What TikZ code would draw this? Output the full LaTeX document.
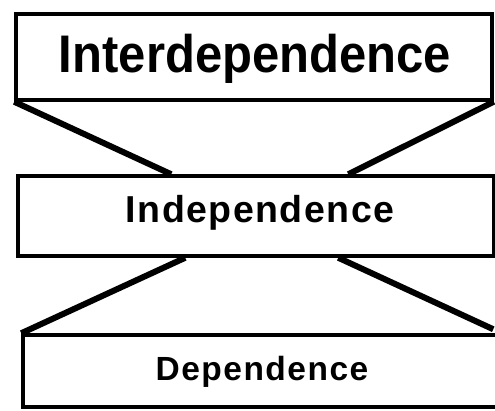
\documentclass[tikz,border=0pt]{standalone}
\usepackage{fontspec}
\newfontfamily\labelfont{Liberation Sans}
\usetikzlibrary{calc}
\begin{document}
\begin{tikzpicture}[x=1pt,y=-1pt,
  panel/.style={draw=black, line width=3.5pt, inner sep=0pt},
  link/.style={draw=black, line width=6pt},
  caption/.style={inner sep=0pt, anchor=base, text=black}]
\useasboundingbox (0,0) rectangle (495,410);
\node[panel, minimum width=476pt, minimum height=86pt] (inter) at (254,57) {};
\node[panel, minimum width=476pt, minimum height=80pt] (indep) at (256,216) {};
\node[panel, minimum width=478pt, minimum height=72pt] (dep) at (262,371) {};
\node[caption, font=\labelfont\bfseries\fontsize{49}{52}\selectfont] (intertext) at (255,72) {\scalebox{1}[1.08]{Interdependence}};
\node[caption, font=\labelfont\bfseries\fontsize{37.5}{40}\selectfont\addfontfeatures{LetterSpace=4}] (indeptext) at (260,222) {Independence};
\node[caption, font=\labelfont\bfseries\fontsize{33.5}{36}\selectfont\addfontfeatures{LetterSpace=4.5}] (deptext) at (262,380) {Dependence};
\draw[link] (inter.south west) -- ($(indep.north west)+(155,0)$);
\draw[link] (inter.south east) -- ($(indep.north west)+(332,0)$);
\draw[link] ($(indep.south west)+(169,0)$) -- (dep.north west);
\draw[link] ($(indep.south west)+(322,0)$) -- ($(dep.north west)+(472,-4)$);
\end{tikzpicture}
\end{document}
